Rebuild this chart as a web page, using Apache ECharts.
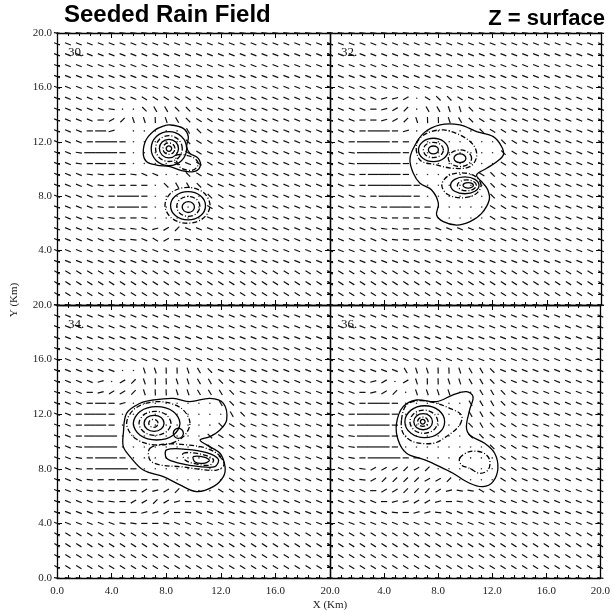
<!DOCTYPE html>
<html><head><meta charset="utf-8">
<script src="https://cdn.jsdelivr.net/npm/echarts@6/dist/echarts.min.js"></script>
<style>html,body{margin:0;padding:0;background:#fff}#c{width:613px;height:613px}</style>
</head><body><div id="c"></div>
<script>
// ---------------- data ----------------
const panelNames = ['30.', '32.', '34.', '36.'];
const tickValues = [0, 4, 8, 12, 16, 20];
const tickLabels = ['0.0', '4.0', '8.0', '12.0', '16.0', '20.0'];
const vectorStep = 0.8; // km between wind vectors

// wind vector direction codes, row 0 = Y 20 km, col 0 = X 0 km
const field30 = [
"gggggggggggggggggggggggggg",
"aaaaaaaaaaaaaaaaaaaaaaaaaa",
"aaaaaaaaaaaaaaaaaaaaaaaaaa",
"aaaaaaaaaaaaaaaaaaaaaaaaaa",
"aaaaaaaaaaaaaaaaaaaaaaaaaa",
"aaaaaaaaaaaaaaaaaaaaaaaaaa",
"aaaaaaaabbbbbbaaaaaaaaaaaa",
"aaaaag..cddccbaaaaaaaaaaaa",
"aaaahjkeefedcbbaaaaaaaaaaa",
"aaahHi .....dcbaaaaaaaaaaa",
"aaahHHh.....cbbaaaaaaaaaaa",
"aagHHHh.....bbaaaaaaaaaaaa",
"aaghHhh....aabbaaaaaaaaaaa",
"aaagghhgaa..cbaaaaaaaaaaaa",
"aaaaghhhh.cddcbaaaaaaaaaaa",
"aaaaghHHh.....cbaaaaaaaaaa",
"aaaaghHHh.....bbaaaaaaaaaa",
"aaaagghhg.....aaaaaaaaaaaa",
"aaaaagggaijkaaaaaaaaaaaaaa",
"aaaaaaggabjhaaaaaaaaaaaaaa",
"aaaaaaaaaaaaaaaaaaaaaaaaaa",
"aaaaaaaaaaaaaaaaaaaaaaaaaa",
"bbbbbbbbbbbbbbbbbbbbbbbbbb",
"bbbbbbbbbbbbbbbbbbbbbbbbbb",
"bbbbbbbbbbbbbbbbbbbbbbbbbb",
"gggggggggggggggggggggggggg"];
const field32 = [
"gggggggggggggggggggggggggg",
"aaaaaaaaaaaaaaaaaaaaaaaaaa",
"aaaaaaaaaaaaaaaaaaaaaaaaaa",
"aaaaaaaaaaaaaaaaaaaaaaaaaa",
"aaaaaaaaaaaaaaaaaaaaaaaaaa",
"aaaaaaaaaaaaaaaaaaaaaaaaaa",
"aaaaaiij.bccbaaaaaaaaaaaaa",
"aaaahijk.ddeecaaaaaaaaaaaa",
"aaahhijkeffedcbaaaaaaaaaaa",
"aaahHHhi......cbbaaaaaaaaa",
"aahHHHhh........cbaaaaaaaa",
"aagHHHHh........cbaaaaaaaa",
"aagHHHHh........bbaaaaaaaa",
"aaghHHHh......bcbbaaaaaaaa",
"aaghHHHHh......cbaaaaaaaaa",
"aaaghHHHh......cbaaaaaaaaa",
"aaagghHHhh.....bbaaaaaaaaa",
"aaaagghhhg.....baaaaaaaaaa",
"aaaaagghhgaaaaaaaaaaaaaaaa",
"aaaaaagghgaaaaaaaaaaaaaaaa",
"aaaaaaaaaaaaaaaaaaaaaaaaaa",
"aaaaaaaaaaaaaaaaaaaaaaaaaa",
"bbbbbbbbbbbbbbbbbbbbbbbbbb",
"bbbbbbbbbbbbbbbbbbbbbbbbbb",
"bbbbbbbbbbbbbbbbbbbbbbbbbb",
"gggggggggggggggggggggggggg"];
const field34 = [
"gggggggggggggggggggggggggg",
"aaaaaaaaaaaaaaaaaaaaaaaaaa",
"aaaaaaaaaaaaaaaaaaaaaaaaaa",
"aaaaaaaaaaaaaaaaaaaaaaaaaa",
"aaaaaaaaaaaaaaaaaaaaaaaaaa",
"aaaaaaaaaaaaaaaaaaaaaaaaaa",
"aaaaaa..eeffedcaaaaaaaaaaa",
"aaaai.jkeffeeddcbaaaaaaaaa",
"aaahijjkeffeedddcaaaaaaaaa",
"aaahHhi........dcaaaaaaaaa",
"aahHHh..........dcaaaaaaaa",
"aahHHh.........cbbaaaaaaaa",
"aahHHH........cbbbaaaaaaaa",
"aagHHH........cbbbaaaaaaaa",
"aaghHHh........cbbaaaaaaaa",
"aaghHHHh........bbaaaaaaaa",
"aaaghhHHhh......bbaaaaaaaa",
"aaagghhhjijk...bbbaaaaaaaa",
"aaaagghjjkjihggbaaaaaaaaaa",
"aaaaaghhiijhgaaaaaaaaaaaaa",
"aaaaaagghhgaaaaaaaaaaaaaaa",
"bbbbbbbbbbbbbbbbbbbbbbbbbb",
"bbbbbbbbbbbbbbbbbbbbbbbbbb",
"bbbbbbbbbbbbbbbbbbbbbbbbbb",
"bbbbbbbbbbbbbbbbbbbbbbbbbb",
"gggggggggggggggggggggggggg"];
const field36 = [
"gggggggggggggggggggggggggg",
"aaaaaaaaaaaaaaaaaaaaaaaaaa",
"aaaaaaaaaaaaaaaaaaaaaaaaaa",
"aaaaaaaaaaaaaaaaaaaaaaaaaa",
"aaaaaaaaaaaaaaaaaaaaaaaaaa",
"aaaaaaaaaaaaaaaaaaaaaaaaaa",
"aaaaaaadeeffeddcaaaaaaaaaa",
"aaaaij.jeffeeddcbaaaaaaaaa",
"aaahijk.eeee..ddcbaaaaaaaa",
"aaahHHh......dddcbaaaaaaaa",
"aahHHHh......ddcbbaaaaaaaa",
"aahHHHh......cdcbbaaaaaaaa",
"aagHHHh......ccbbbaaaaaaaa",
"aagHHHh........cbbaaaaaaaa",
"aaghHHHhh.......bbaaaaaaaa",
"aaagjjjkjk......bbaaaaaaaa",
"aaagjkkkkjjk....bbaaaaaaaa",
"aaaahjjkkkjiggbbbaaaaaaaaa",
"aaaaahiijjihgaaaaaaaaaaaaa",
"aaaaaaghiigaaaaaaaaaaaaaaa",
"aaaaaaaaaaaaaaaaaaaaaaaaaa",
"bbbbbbbbbbbbbbbbbbbbbbbbbb",
"bbbbbbbbbbbbbbbbbbbbbbbbbb",
"bbbbbbbbbbbbbbbbbbbbbbbbbb",
"bbbbbbbbbbbbbbbbbbbbbbbbbb",
"gggggggggggggggggggggggggg"];

// rain contours, [X km, Y km] points
const contours30 = [
 [[8.28,13.24],[9.25,12.99],[9.62,12.38],[9.5,11.64],[9.74,11.15],[10.35,10.78],[10.48,10.17],[9.99,9.8],[9.13,9.88],[8.28,10.17],[7.3,10.29],[6.57,10.54],[6.32,11.15],[6.52,12.13],[7.18,12.87],[7.79,13.16]],
 [[8.77,11.03],[9.87,10.9],[10.35,10.42],[9.99,9.93],[9.13,10.05],[8.77,10.54]],
 [[9.5,11.5],[9.12,12.39],[8.2,12.75],[7.28,12.39],[6.9,11.5],[7.28,10.61],[8.2,10.25],[9.12,10.61]],
 [[9.18,11.5],[8.9,12.17],[8.2,12.45],[7.5,12.17],[7.22,11.5],[7.5,10.83],[8.2,10.55],[8.9,10.83]],
 [[8.9,11.5],[8.7,11.98],[8.2,12.18],[7.7,11.98],[7.5,11.5],[7.7,11.02],[8.2,10.82],[8.7,11.02]],
 [[8.64,11.5],[8.51,11.8],[8.2,11.92],[7.89,11.8],[7.76,11.5],[7.89,11.2],[8.2,11.08],[8.51,11.2]],
 [[8.4,11.5],[8.34,11.64],[8.2,11.7],[8.06,11.64],[8.0,11.5],[8.06,11.36],[8.2,11.3],[8.34,11.36]],
 [[11.21,7.33],[10.73,8.27],[9.56,8.65],[8.39,8.27],[7.91,7.33],[8.39,6.39],[9.56,6.01],[10.73,6.39]],
 [[10.88,7.3],[10.51,8.04],[9.6,8.34],[8.69,8.04],[8.32,7.3],[8.69,6.56],[9.6,6.26],[10.51,6.56]],
 [[10.47,7.25],[10.22,7.77],[9.62,7.98],[9.02,7.77],[8.77,7.25],[9.02,6.73],[9.62,6.52],[10.22,6.73]],
 [[10.07,7.2],[9.94,7.48],[9.62,7.6],[9.3,7.48],[9.17,7.2],[9.3,6.92],[9.62,6.8],[9.94,6.92]]
];
const contours32 = [
 [[6.15,11.52],[6.89,12.62],[8.12,13.24],[9.59,13.24],[10.82,12.75],[12.05,12.38],[12.67,11.64],[12.79,11.03],[12.3,10.54],[11.56,10.05],[10.82,9.56],[11.3,8.95],[11.65,8.46],[11.75,7.72],[11.19,6.74],[10.33,6.13],[9.35,5.88],[8.36,6.13],[7.87,6.62],[8.0,7.48],[7.5,8.46],[6.64,8.95],[6.15,9.68],[5.9,10.66]],
 [[6.4,11.89],[7.13,12.62],[8.36,12.87],[9.59,12.5],[10.58,11.77],[10.82,10.91],[10.33,10.17],[9.1,10.05],[7.87,10.3],[6.64,10.66]],
 [[8.73,11.4],[8.41,12.01],[7.63,12.26],[6.85,12.01],[6.53,11.4],[6.85,10.79],[7.63,10.54],[8.41,10.79]],
 [[8.37,11.4],[8.16,11.8],[7.63,11.96],[7.1,11.8],[6.89,11.4],[7.1,11.0],[7.63,10.84],[8.16,11.0]],
 [[8.0,11.4],[7.89,11.61],[7.63,11.69],[7.37,11.61],[7.26,11.4],[7.37,11.19],[7.63,11.11],[7.89,11.19]],
 [[10.45,10.79],[10.2,11.22],[9.59,11.4],[8.98,11.22],[8.73,10.79],[8.98,10.36],[9.59,10.18],[10.2,10.36]],
 [[10.03,10.79],[9.9,11.02],[9.59,11.11],[9.28,11.02],[9.15,10.79],[9.28,10.56],[9.59,10.47],[9.9,10.56]],
 [[11.15,8.8],[10.73,9.46],[9.7,9.72],[8.67,9.46],[8.25,8.8],[8.67,8.14],[9.7,7.88],[10.73,8.14]],
 [[11.0,8.8],[10.7,9.24],[9.95,9.42],[9.2,9.24],[8.9,8.8],[9.2,8.36],[9.95,8.18],[10.7,8.36]],
 [[10.8,8.8],[10.6,9.08],[10.1,9.2],[9.6,9.08],[9.4,8.8],[9.6,8.52],[10.1,8.4],[10.6,8.52]],
 [[10.58,8.8],[10.47,8.94],[10.2,9.0],[9.93,8.94],[9.82,8.8],[9.93,8.66],[10.2,8.6],[10.47,8.66]]
];
const contours34 = [
 [[4.86,10.6],[5.1,12.07],[6.08,12.8],[7.06,13.04],[8.52,13.16],[9.74,12.92],[11.21,13.16],[12.19,12.8],[12.43,11.58],[11.94,10.84],[11.21,10.36],[10.48,10.11],[10.96,9.75],[11.94,9.14],[12.31,8.16],[12.19,7.43],[11.45,6.69],[10.23,6.33],[9.01,6.82],[7.79,7.43],[6.32,7.91],[5.35,8.89],[4.86,9.62]],
 [[9.74,11.33],[9.07,12.46],[7.42,12.92],[5.77,12.46],[5.1,11.33],[5.77,10.2],[7.42,9.74],[9.07,10.2]],
 [[9.01,11.33],[8.51,12.2],[7.3,12.55],[6.09,12.2],[5.59,11.33],[6.09,10.46],[7.3,10.11],[8.51,10.46]],
 [[8.35,11.33],[8.01,11.95],[7.18,12.21],[6.35,11.95],[6.01,11.33],[6.35,10.71],[7.18,10.45],[8.01,10.71]],
 [[7.84,11.33],[7.63,11.75],[7.11,11.92],[6.59,11.75],[6.38,11.33],[6.59,10.91],[7.11,10.74],[7.63,10.91]],
 [[7.4,11.33],[7.3,11.54],[7.06,11.62],[6.82,11.54],[6.72,11.33],[6.82,11.12],[7.06,11.04],[7.3,11.12]],
 [[9.26,10.6],[9.15,10.86],[8.89,10.97],[8.63,10.86],[8.52,10.6],[8.63,10.34],[8.89,10.23],[9.15,10.34]],
 [[6.81,9.5],[8.03,9.82],[9.5,9.75],[10.96,9.5],[11.94,8.94],[12.23,8.28],[11.7,7.91],[10.48,7.96],[9.01,8.16],[7.55,8.28],[6.81,8.65]],
 [[8.03,9.38],[9.5,9.43],[10.96,9.18],[11.82,8.7],[11.57,8.16],[10.48,8.16],[9.01,8.4],[8.03,8.77]],
 [[9.25,9.14],[10.48,9.09],[11.45,8.7],[11.21,8.28],[10.23,8.35],[9.38,8.65]],
 [[9.99,8.89],[10.84,8.84],[11.16,8.6],[10.72,8.4],[10.11,8.5]]
];
const contours36 = [
 [[4.92,11.33],[5.41,12.55],[6.4,13.04],[7.87,12.92],[9.1,13.41],[10.09,13.65],[10.58,13.29],[10.33,12.31],[10.09,11.09],[10.33,10.48],[11.44,9.87],[12.18,9.14],[12.42,8.04],[12.06,7.06],[11.32,6.69],[10.33,6.94],[9.1,7.67],[8.12,8.16],[7.01,8.65],[5.66,9.14],[5.04,10.11]],
 [[5.29,11.58],[5.66,12.68],[6.64,12.99],[7.87,12.8],[8.86,12.43],[9.72,11.94],[9.59,11.21],[8.61,10.36],[7.63,9.87],[6.15,9.99],[5.41,10.6]],
 [[8.48,11.45],[8.05,12.28],[7.01,12.62],[5.97,12.28],[5.54,11.45],[5.97,10.62],[7.01,10.28],[8.05,10.62]],
 [[7.97,11.45],[7.67,12.05],[6.94,12.3],[6.21,12.05],[5.91,11.45],[6.21,10.85],[6.94,10.6],[7.67,10.85]],
 [[7.58,11.45],[7.38,11.87],[6.89,12.04],[6.4,11.87],[6.2,11.45],[6.4,11.03],[6.89,10.86],[7.38,11.03]],
 [[7.26,11.45],[7.15,11.69],[6.87,11.79],[6.59,11.69],[6.48,11.45],[6.59,11.21],[6.87,11.11],[7.15,11.21]],
 [[7.03,11.45],[6.98,11.57],[6.86,11.62],[6.74,11.57],[6.69,11.45],[6.74,11.33],[6.86,11.28],[6.98,11.33]],
 [[9.59,8.77],[10.33,9.26],[11.32,9.18],[11.81,8.65],[11.69,7.91],[11.07,7.67],[10.33,8.04],[9.72,8.28]]
];
const fields = [field30, field32, field34, field36];
const contours = [contours30, contours32, contours34, contours36];

// ---------------- layout / style ----------------
const GRIDS = [
  {left:57, top:33, width:273, height:272},
  {left:330, top:33, width:271, height:272},
  {left:57, top:305, width:273, height:273},
  {left:330, top:305, width:271, height:273}
];
const ANG = {a:-22,b:-32,c:-45,d:-60,e:-72,f:-88,g:-8,h:0,i:15,j:30,k:45,l:60,m:75};
const SERIF = '"Liberation Serif", "DejaVu Serif", serif';

function fieldData(rows){
  const out = [];
  rows.forEach((row, r) => {
    for (let c = 0; c < row.length; c++) {
      const ch = row[c];
      if (ch === ' ') continue;
      out.push([c * vectorStep, 20 - r * vectorStep, ch.charCodeAt(0)]);
    }
  });
  return out;
}
function renderVec(params, api){
  const p = api.coord([api.value(0), api.value(1)]);
  const ch = String.fromCharCode(api.value(2));
  if (ch === '.') return {type:'circle', shape:{cx:p[0], cy:p[1], r:0.8}, style:{fill:'#333'}};
  const lo = ch.toLowerCase();
  const ang = ANG[lo] * Math.PI / 180;
  const len = ch === lo ? 6.2 : 11;
  const dx = Math.cos(ang) * len / 2, dy = -Math.sin(ang) * len / 2;
  return {type:'line', shape:{x1:p[0]-dx, y1:p[1]-dy, x2:p[0]+dx, y2:p[1]+dy},
          style:{stroke:'#111', lineWidth:1.2}};
}
function ringRenderer(rings){
  return function(params, api){
    const i = params.dataIndex;
    const pts = rings[i].map(q => api.coord(q));
    return {type:'polygon', shape:{points:pts, smooth:0.35},
      style:{fill:'none', stroke:'#000', lineWidth:1.3, lineDash: (i % 2 === 1) ? [5, 2, 1, 2] : null}};
  };
}
function axis(grid, pos, showLabel, skipZero){
  const isX = pos === 'bottom' || pos === 'top';
  return {type:'value', gridIndex:grid, position:pos, min:0, max:20, interval:4,
    axisLine:{show:true, onZero:false, lineStyle:{color:'#000', width:1.3}},
    axisTick:{show:true, inside:true, length:5, lineStyle:{color:'#000', width:1}},
    minorTick:{show:true, splitNumber:5, length:3, lineStyle:{color:'#000', width:1}},
    splitLine:{show:false}, minorSplitLine:{show:false},
    axisLabel:{show:showLabel, fontFamily:SERIF, fontSize:11, color:'#222', margin: isX ? 8 : 5,
      formatter: v => { const k = tickValues.indexOf(v); if (k < 0 || (skipZero && v === 0)) return ''; return tickLabels[k]; }}
  };
}

const xAxis = [], yAxis = [], series = [];
for (let g = 0; g < 4; g++) {
  const isBottom = g >= 2, isLeft = g % 2 === 0;
  xAxis.push(axis(g, 'bottom', isBottom, g === 3));
  xAxis.push(axis(g, 'top', false, false));
  yAxis.push(axis(g, 'left', isLeft, g === 0));
  yAxis.push(axis(g, 'right', false, false));
  series.push({type:'custom', xAxisIndex:2*g, yAxisIndex:2*g, coordinateSystem:'cartesian2d',
    silent:true, clip:false, renderItem:renderVec, data:fieldData(fields[g]), animation:false});
  series.push({type:'custom', xAxisIndex:2*g, yAxisIndex:2*g, coordinateSystem:'cartesian2d',
    silent:true, clip:false, renderItem:ringRenderer(contours[g]),
    data:contours[g].map((r, i) => [r[0][0], r[0][1], i]), animation:false, z:3});
}

const graphic = [
  {type:'text', left:64, top:3, style:{text:'Seeded Rain Field', font:'bold 24px "Liberation Sans", Arial, sans-serif', fill:'#000'}},
  {type:'text', right:8, top:8, style:{text:'Z = surface', font:'bold 22px "Liberation Sans", Arial, sans-serif', fill:'#000'}},
  {type:'text', x:14, y:300, rotation:Math.PI/2, style:{text:'Y (Km)', font:'11px ' + SERIF, fill:'#222', align:'center', verticalAlign:'middle'}},
  {type:'text', x:330, y:605, style:{text:'X (Km)', font:'11px ' + SERIF, fill:'#222', align:'center', verticalAlign:'middle'}}
];
GRIDS.forEach((gr, g) => {
  graphic.push({type:'text', x:gr.left + 11, y:gr.top + 20, style:{text:panelNames[g], font:'13px ' + SERIF, fill:'#111', verticalAlign:'middle'}});
});

const chart = echarts.init(document.getElementById('c'), null, {renderer:'canvas'});
chart.setOption({
  animation:false,
  backgroundColor:'#fff',
  grid: GRIDS.map(g => Object.assign({containLabel:false}, g)),
  xAxis, yAxis, series, graphic
});
</script></body></html>
